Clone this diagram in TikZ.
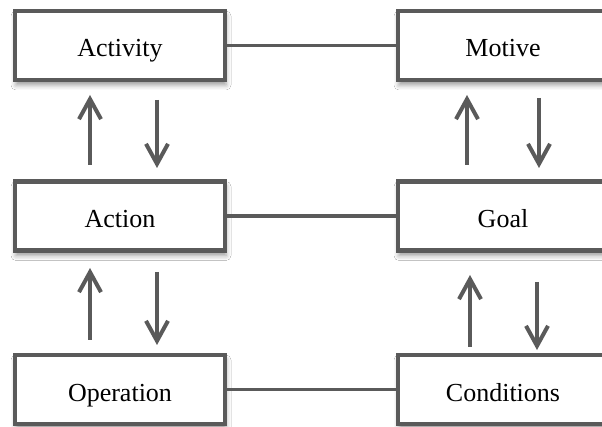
\documentclass[tikz,border=0pt]{standalone}
\usepackage{fontspec}
\setmainfont{Liberation Serif}
\usetikzlibrary{arrows.meta,shadows.blur}
\definecolor{lc}{HTML}{5A5A5A}
\begin{document}
\begin{tikzpicture}[x=1pt,y=-1pt,
  box/.style={draw=lc, line width=4.3pt, fill=white, minimum width=210pt, minimum height=69pt,
    inner sep=0pt, text height=25pt, text depth=2pt, font=\fontsize{26}{30}\selectfont,
    blur shadow={shadow xshift=1pt, shadow yshift=-5pt, shadow blur radius=5pt, shadow opacity=40}},
  link/.style={draw=lc, line width=3.8pt},
  arr/.style={draw=lc, line width=4pt, -{Straight Barb[length=20pt, width=22pt, line width=4pt]}}]
\useasboundingbox (0,0) rectangle (602,427);
\clip (0,0) rectangle (602,427);
\fill[white] (0,0) rectangle (602,427);
\node[box] (act) at (120,45.5) {Activity};
\node[box] (mot) at (503,45.5) {Motive};
\node[box] (acn) at (120,216) {Action};
\node[box] (goal) at (503,216) {Goal};
\node[box] (op) at (120,389.5) {Operation};
\node[box] (cond) at (503,389.5) {Conditions};
\draw[link] (act.east) -- (mot.west);
\draw[link] (acn.east) -- (goal.west);
\draw[link] (op.east) -- (cond.west);
% arrow end coordinates
\coordinate (a1s) at (90,165); \coordinate (a1e) at (90,95);
\coordinate (a2s) at (157,100); \coordinate (a2e) at (157,168);
\coordinate (a3s) at (467,165); \coordinate (a3e) at (467,95);
\coordinate (a4s) at (539,98); \coordinate (a4e) at (539,168);
\coordinate (a5s) at (90,340); \coordinate (a5e) at (90,268);
\coordinate (a6s) at (157,272); \coordinate (a6e) at (157,345);
\coordinate (a7s) at (470,347); \coordinate (a7e) at (470,275);
\coordinate (a8s) at (537,282); \coordinate (a8e) at (537,350);
\draw[arr] (a1s) -- (a1e);
\draw[arr] (a2s) -- (a2e);
\draw[arr] (a3s) -- (a3e);
\draw[arr] (a4s) -- (a4e);
\draw[arr] (a5s) -- (a5e);
\draw[arr] (a6s) -- (a6e);
\draw[arr] (a7s) -- (a7e);
\draw[arr] (a8s) -- (a8e);
\end{tikzpicture}
\end{document}
